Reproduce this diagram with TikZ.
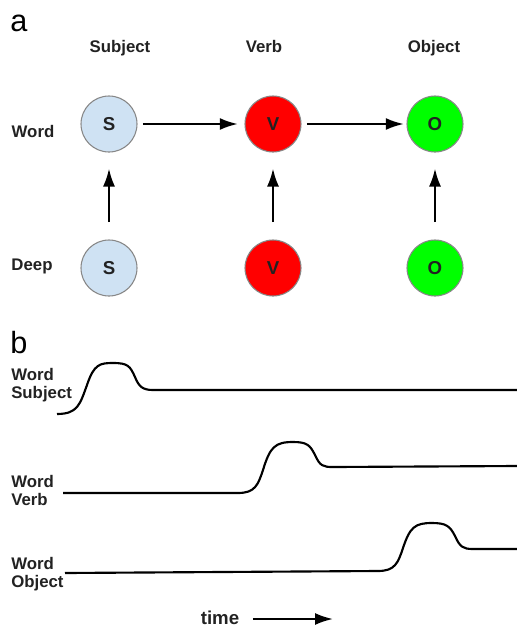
\documentclass[tikz,border=0pt]{standalone}
\usepackage{fontspec}
\setmainfont{Liberation Sans}
\usetikzlibrary{arrows.meta,shapes}

\definecolor{subjblue}{RGB}{207,226,243}
\definecolor{rimgray}{RGB}{135,135,135}
\definecolor{inkgray}{RGB}{34,34,34}

\begin{document}
\begin{tikzpicture}[x=0.75pt,y=-0.75pt]
\tikzstyle{word}=[circle,draw=rimgray,line width=0.8pt,minimum size=42pt,inner sep=0pt,
  font=\bfseries\fontsize{14}{16}\selectfont,text=inkgray]
\tikzstyle{lbl}=[font=\bfseries\fontsize{12.6}{13.5}\selectfont,text=inkgray,inner sep=0pt]
\tikzstyle{pane}=[font=\fontsize{23}{25}\selectfont,inner sep=0pt]
\tikzstyle{link}=[line width=1.6pt,-{Latex[length=13.5pt,width=9pt]}]
\tikzstyle{trace}=[line width=1.6pt,line join=round]
\useasboundingbox (0,0) rectangle (517,626);

% panel a
\node[pane,anchor=base west] (pa) at (10,31) {a};
\node[lbl,anchor=base] (hS) at (120,52) {Subject};
\node[lbl,anchor=base] (hV) at (264,52) {Verb};
\node[lbl,anchor=base] (hO) at (434,52) {Object};
\node[lbl] (rw) at (33,131) {Word};
\node[lbl] (rd) at (32,266) {Deep};

\node[word,fill=subjblue] (wS) at (109,124) {S};
\node[word,fill=red] (wV) at (273,124) {V};
\node[word,fill=green] (wO) at (435,124) {O};
\node[word,fill=subjblue] (dS) at (109,268) {S};
\node[word,fill=red] (dV) at (273,268) {V};
\node[word,fill=green] (dO) at (435,268) {O};

\draw[link,shorten <=4pt,shorten >=5pt] (wS) -- (wV);
\draw[link,shorten <=4pt,shorten >=2pt] (wV) -- (wO);
\foreach \c in {S,V,O}
  \draw[link,shorten <=13pt,shorten >=12pt] (d\c) -- (w\c);

% panel b
\node[pane,anchor=base west] (pb) at (10,353) {b};
\node[lbl,align=left,anchor=west] (tS) at (11,385) {Word\\Subject};
\node[lbl,align=left,anchor=west] (tV) at (11,490) {Word\\Verb};
\node[lbl,align=left,anchor=west] (tO) at (11,574) {Word\\Object};

\draw[trace] (57,414) .. controls (78,414) and (80,404) .. (87,385)
  .. controls (94,364) and (100,363) .. (113,363)
  .. controls (128,363) and (130,366) .. (135,377)
  .. controls (139,387) and (143,390) .. (153,390) -- (517,390);
\draw[trace] (63,493) -- (238,493) .. controls (255,493) and (258,485) .. (263,470)
  .. controls (270,447) and (275,442) .. (293,442)
  .. controls (307,442) and (310,445) .. (315,455)
  .. controls (320,466) and (323,467) .. (333,467) -- (517,466);
\draw[trace] (65,573) -- (378,571) .. controls (395,571) and (398,563) .. (403,548)
  .. controls (410,527) and (415,523) .. (432,523)
  .. controls (446,523) and (450,526) .. (455,536)
  .. controls (460,547) and (463,549) .. (473,549) -- (517,549);

\node[lbl,font=\bfseries\fontsize{14}{16}\selectfont,anchor=base] (tm) at (220,624) {time};
\coordinate (tmend) at (333,619);
\draw[link,shorten <=10pt] (tm.east |- tmend) -- (tmend);
\end{tikzpicture}
\end{document}
